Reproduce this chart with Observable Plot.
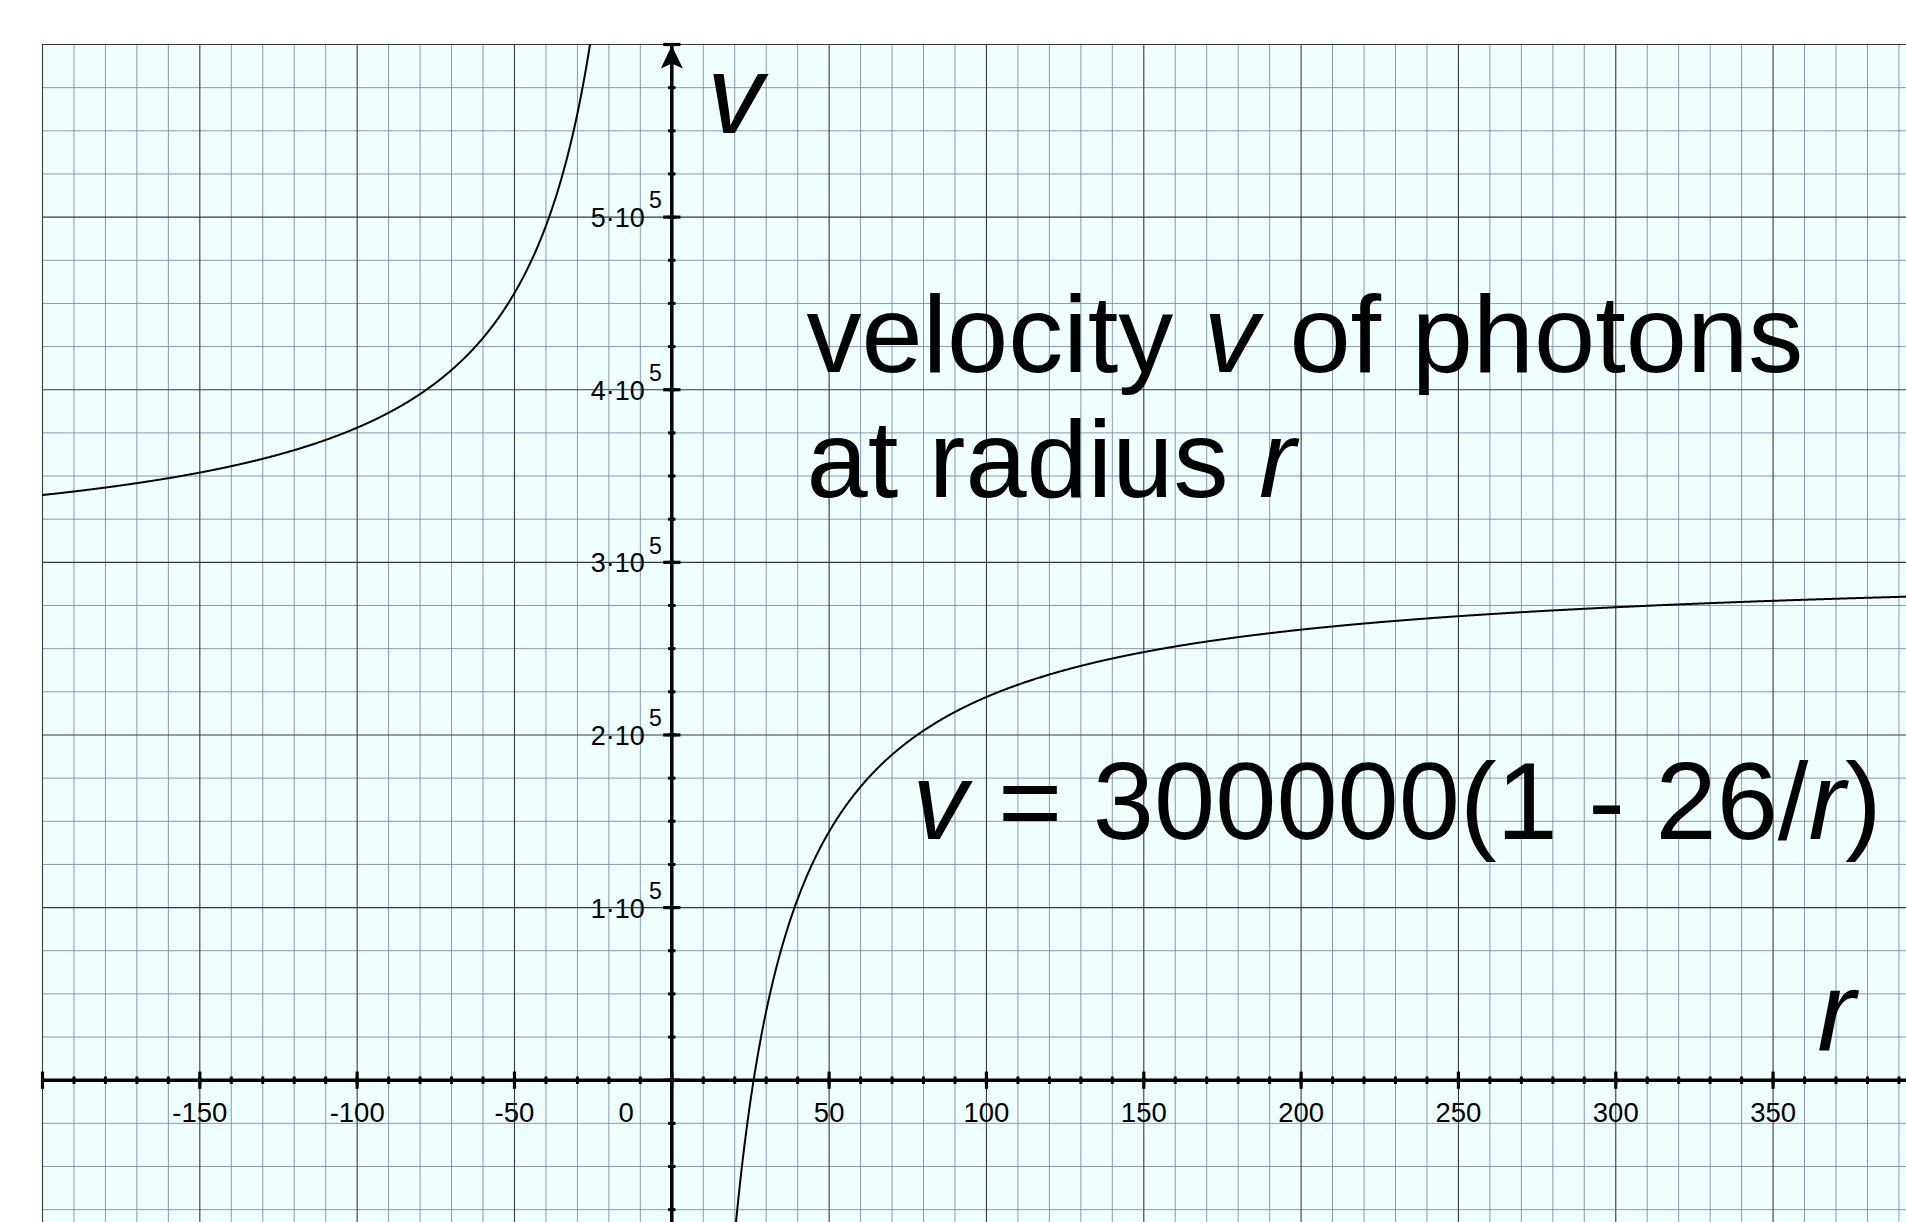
<!DOCTYPE html>
<html>
<head>
<meta charset="utf-8">
<script src="https://cdn.jsdelivr.net/npm/d3@7"></script>
<script src="https://cdn.jsdelivr.net/npm/@observablehq/plot@0.6"></script>
<style>
  html, body { margin: 0; padding: 0; background: #ffffff; }
  svg text { white-space: pre; }
</style>
</head>
<body>
<div id="chart"></div>
<script>
// Velocity of photons at radius r:  v = C · (1 − RS / r)
const C = 300000;   // km/s far from the mass
const RS = 26;      // radius where v drops to zero

// Visible window of the graph paper
const rDomain = [-200, 392.4];
const vDomain = [-82440, 600000];

// Axis tick labels
const rTickLabels = [-150, -100, -50, 50, 100, 150, 200, 250, 300, 350];
const rZeroLabel = ["0"];
const vTickLabels = [1, 2, 3, 4, 5];   // mantissas of n·10^5
const vExponent = "5";

// Annotation text, as runs of [text, italic]
const titleLine1 = [["velocity ", false], ["v", true], [" of photons", false]];
const titleLine2 = [["at radius ", false], ["r", true]];
const formulaRuns = [["v", true], [" = 300000(1 - 26/", false], ["r", true], [")", false]];

// Grid spacing
const rMinorStep = 10, rMajorStep = 50;
const vMinorStep = 25000, vMajorStep = 100000;

// Sample both branches of the hyperbola (clipped to the window)
const velocity = r => C * (1 - RS / r);
const curve = [
  ...d3.range(-200, -21.9, 0.25).map(r => ({r, v: velocity(r), branch: "left"})),
  ...d3.range(18, 392.6, 0.25).map(r => ({r, v: velocity(r), branch: "right"}))
];

const isMult = (x, m) => Math.abs(x / m - Math.round(x / m)) < 1e-9;
const rAll = d3.range(-200, rDomain[1] + 0.01, rMinorStep);
const vAll = d3.range(-75000, vDomain[1] + 1, vMinorStep);
const rMinor = rAll.filter(x => !isMult(x, rMajorStep));
const rMajor = rAll.filter(x => isMult(x, rMajorStep) && x !== 0);
const vMinor = vAll.filter(y => !isMult(y, vMajorStep));
const vMajor = vAll.filter(y => isMult(y, vMajorStep) && y !== 0);
const rTicksMajor = rAll.filter(x => isMult(x, rMajorStep));
const vTicksMajor = vAll.filter(y => isMult(y, vMajorStep));

// Tick and arrow glyphs (pixel-sized symbols centred on the axis point)
const tickV = len => ({draw(ctx) { ctx.moveTo(0, -len); ctx.lineTo(0, len); }});
const tickH = len => ({draw(ctx) { ctx.moveTo(-len, 0); ctx.lineTo(len, 0); }});
const arrowUp = {draw(ctx) {
  ctx.moveTo(0, 1); ctx.lineTo(11, 24); ctx.lineTo(0, 19); ctx.lineTo(-11, 24); ctx.closePath();
}};

const runsText = runs => runs.map(d => d[0]).join("");
const font = "'Liberation Sans', Arial, Helvetica, sans-serif";
const minorColor = "#7885a8";
const majorColor = "#35383d";

const plot = Plot.plot({
  width: 1906,
  height: 1222,
  marginLeft: 42,
  marginTop: 44,
  marginRight: 0,
  marginBottom: 0,
  x: {domain: rDomain, axis: null},
  y: {domain: vDomain, axis: null},
  style: {fontFamily: font, background: "#ffffff", color: "#000000"},
  marks: [
    Plot.frame({fill: "#efffff", stroke: "none"}),
    // graph paper
    Plot.ruleX(rMinor, {x: d => d, stroke: minorColor, strokeWidth: 1, strokeOpacity: 0.85}),
    Plot.ruleY(vMinor, {y: d => d, stroke: minorColor, strokeWidth: 1, strokeOpacity: 0.85}),
    Plot.ruleX(rMajor, {x: d => d, stroke: majorColor, strokeWidth: 1.1}),
    Plot.ruleY(vMajor, {y: d => d, stroke: majorColor, strokeWidth: 1.1}),
    // v(r)
    Plot.line(curve, {x: "r", y: "v", z: "branch", stroke: "#000000", strokeWidth: 2, clip: true}),
    // axes
    Plot.ruleY([0], {y: d => d, stroke: "#000000", strokeWidth: 3.5}),
    Plot.ruleX([0], {x: d => d, stroke: "#000000", strokeWidth: 3.5}),
    Plot.dot(rAll, {x: d => d, y: () => 0, symbol: tickV(3.7), fill: "none", stroke: "#000000", strokeWidth: 3}),
    Plot.dot(rTicksMajor, {x: d => d, y: () => 0, symbol: tickV(8.6), fill: "none", stroke: "#000000", strokeWidth: 3.2}),
    Plot.dot(vAll, {x: () => 0, y: d => d, symbol: tickH(3.7), fill: "none", stroke: "#000000", strokeWidth: 3}),
    Plot.dot(vTicksMajor, {x: () => 0, y: d => d, symbol: tickH(8.6), fill: "none", stroke: "#000000", strokeWidth: 3.2}),
    Plot.dot([vDomain[1]], {x: () => 0, y: d => d, symbol: arrowUp, fill: "#000000", stroke: "none"}),
    // tick labels
    Plot.text(rTickLabels, {x: d => d, y: () => 0, text: d => String(d), dy: 42, lineAnchor: "bottom",
      textAnchor: "middle", fontSize: 27.5, fill: "#000000"}),
    Plot.text(rZeroLabel, {x: () => 0, y: () => 0, text: d => d, dx: -38, dy: 42, lineAnchor: "bottom",
      textAnchor: "end", fontSize: 27.5, fill: "#000000"}),
    Plot.text(vTickLabels, {x: () => 0, y: d => d * 1e5, text: d => `${d}·10`, dx: -27, dy: 10,
      lineAnchor: "bottom", textAnchor: "end", fontSize: 27, fill: "#000000"}),
    Plot.text(vTickLabels, {x: () => 0, y: d => d * 1e5, text: () => vExponent, dx: -10, dy: -8.7,
      lineAnchor: "bottom", textAnchor: "end", fontSize: 23, fill: "#000000"}),
    // axis names
    Plot.text(["v"], {x: () => 11.3, y: () => 549000, text: d => d, lineAnchor: "bottom", textAnchor: "start",
      fontSize: 112, fontStyle: "italic", fill: "#000000"}),
    Plot.text(["r"], {x: () => 364, y: () => 17200, text: d => d, lineAnchor: "bottom", textAnchor: "start",
      fontSize: 114, fontStyle: "italic", fill: "#000000"}),
    // annotations
    Plot.text([titleLine1], {x: () => 42.8, y: () => 410200, text: runsText, lineAnchor: "bottom",
      textAnchor: "start", fontSize: 110, fill: "#000000"}),
    Plot.text([titleLine2], {x: () => 42.8, y: () => 337600, text: runsText, lineAnchor: "bottom",
      textAnchor: "start", fontSize: 110, fill: "#000000"}),
    Plot.text([formulaRuns], {x: () => 76.5, y: () => 139500, text: runsText, lineAnchor: "bottom",
      textAnchor: "start", fontSize: 110, fill: "#000000"})
  ]
});

// Split annotation strings into styled runs (italic variable names)
const richRuns = new Map([titleLine1, titleLine2, formulaRuns].map(runs => [runsText(runs), runs]));
const ns = "http://www.w3.org/2000/svg";
for (const node of plot.querySelectorAll("text")) {
  const runs = richRuns.get(node.textContent);
  if (!runs) continue;
  node.textContent = "";
  for (const [t, italic] of runs) {
    const span = document.createElementNS(ns, "tspan");
    span.textContent = t;
    if (italic) span.setAttribute("font-style", "italic");
    node.appendChild(span);
  }
}

document.getElementById("chart").appendChild(plot);
</script>
</body>
</html>
